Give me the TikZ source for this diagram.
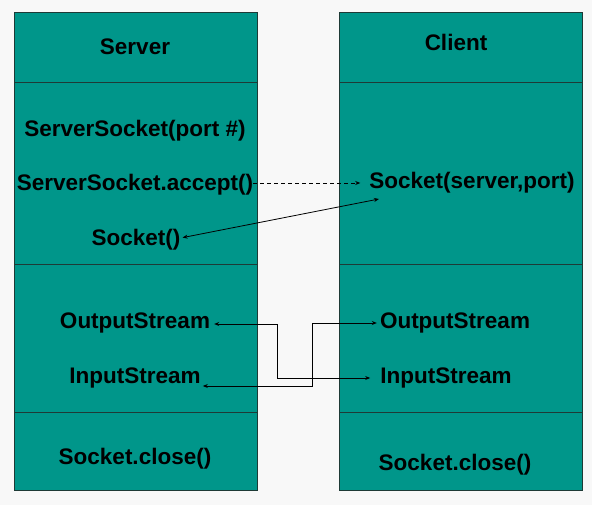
\documentclass[tikz,border=0pt]{standalone}
\usepackage{fontspec}
\setmainfont{Liberation Sans}
\usetikzlibrary{arrows.meta}
\definecolor{bgc}{HTML}{F8F8F8}
\definecolor{teal}{HTML}{00968A}
\definecolor{edge}{HTML}{1E3A36}
\tikzset{
  panel/.style={draw=edge, line width=0.9pt, fill=teal},
  divider/.style={draw=edge, line width=0.9pt},
  lbl/.style={inner sep=0pt, anchor=base, font=\fontsize{22.5}{24}\selectfont\bfseries, text=black},
  conn/.style={draw=black, line width=0.8pt},
  tip/.style={-{Stealth[length=5pt,width=4pt]}},
  tips/.style={{Stealth[length=5pt,width=4pt]}-{Stealth[length=5pt,width=4pt]}}
}
\begin{document}
\begin{tikzpicture}[x=1pt,y=-1pt]
\fill[bgc] (0,0) rectangle (592,505);
\useasboundingbox (0,0) rectangle (592,505);
% panels
\path[panel] (14,12) rectangle (257,490);
\path[panel] (339,12) rectangle (582,490);
\foreach \yy in {82,264,412}{
  \draw[divider] (14,\yy) -- (257,\yy);
  \draw[divider] (339,\yy) -- (582,\yy);
}
% labels
\node[lbl] (server) at (135,55) {Server};
\node[lbl] (client) at (456,51) {Client};
\node[lbl] (ssport) at (135,137) {ServerSocket(port \#)};
\node[lbl] (accept) at (135,191) {ServerSocket.accept()};
\node[lbl] (sock) at (136,246) {Socket()};
\node[lbl] (csock) at (472,189) {Socket(server,port)};
\node[lbl] (outL) at (135,328) {OutputStream};
\node[lbl] (inL) at (135,383) {InputStream};
\node[lbl] (closeL) at (135,464) {Socket.close()};
\node[lbl] (outR) at (455,328) {OutputStream};
\node[lbl] (inR) at (446,383) {InputStream};
\node[lbl] (closeR) at (455,470) {Socket.close()};
% connectors
\coordinate (csIn) at (379,199);
\draw[conn, dash pattern=on 4pt off 3pt, tip, shorten >=9pt] (accept.east |- 0,183) -- (csock.west |- 0,183);
\draw[conn, tips, shorten <=2pt] (sock.east |- 0,238) -- (csIn);
\draw[conn, tips, shorten <=4pt, shorten >=10pt] (outL.east |- 0,324) -- (277,324) -- (277,378) -- (inR.west |- 0,378);
\draw[conn, tips, shorten <=3pt, shorten >=2pt] (outR.west |- 0,323) -- (312,323) -- (312,386) -- (inL.east |- 0,386);
\end{tikzpicture}
\end{document}
